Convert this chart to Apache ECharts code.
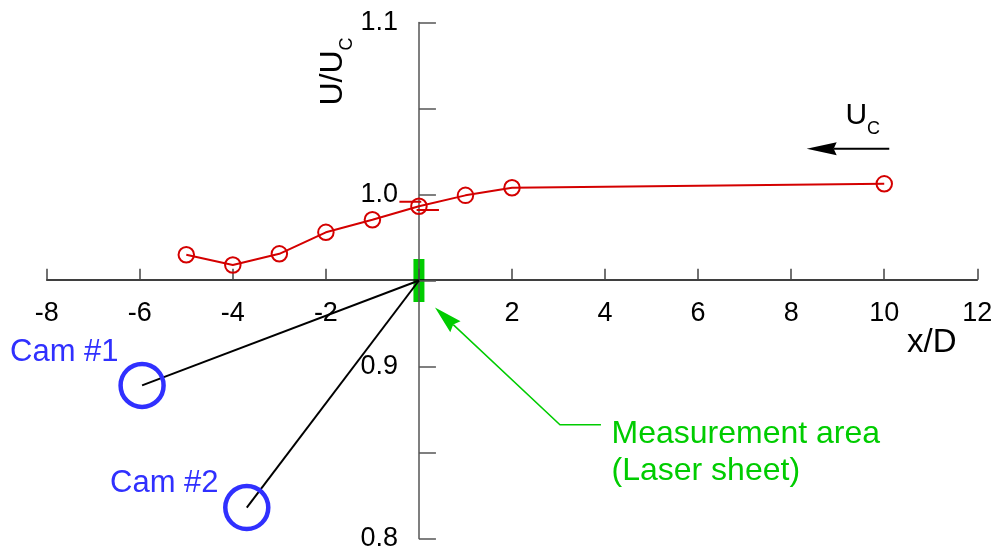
<!DOCTYPE html>
<html>
<head>
<meta charset="utf-8">
<script src="https://cdn.jsdelivr.net/npm/echarts@6/dist/echarts.min.js"></script>
<style>
  html, body { margin: 0; padding: 0; background: #fff; }
  #chart { width: 997px; height: 552px; }
</style>
</head>
<body>
<div id="chart"></div>
<script>
// Streamwise velocity ratio U/Uc along the centreline
const xPositions    = [-5, -4, -3, -2, -1, 0, 1, 2, 10];
const velocityRatio = [0.965, 0.959, 0.9655, 0.978, 0.9853, 0.9932, 0.9995, 1.0039, 1.0062];

// Tick labels shown on each axis
const xTickLabels = [-8, -6, -4, -2, 2, 4, 6, 8, 10, 12];
const yTickLabels = [0.8, 0.9, 1.0, 1.1];

// Spread markers at x/D = 0
const errUpperX = [-0.42, 0.05];
const errUpperY = [0.9958, 0.9958];
const errLowerX = [-0.05, 0.43];
const errLowerY = [0.9910, 0.9910];

// Laser sheet location and the two camera stations
const sheetX = [0];
const sheetY = [0.95];
const cameraNames = ['Cam #1', 'Cam #2'];
const cameraX = [-5.95, -3.70];
const cameraY = [0.889, 0.818];

const FONT = '"Liberation Sans", Arial, Helvetica, sans-serif';
const RED = '#d40000';
const GREEN = '#00cc00';
const BLUE = '#3030ff';

const chart = echarts.init(document.getElementById('chart'), null, { renderer: 'canvas' });

const xMin = -8, xMax = 12, yMin = 0.8, yMax = 1.1;
const gridLeft = 46.7, gridRight = 19.7, gridTop = 22.5, gridBottom = 12;
const plotW = 997 - gridLeft - gridRight;
const plotH = 552 - gridTop - gridBottom;
// shift the axes so they cross at (0, 0.95)
const yAxisShift = -(0 - xMin) / (xMax - xMin) * plotW;
const xAxisShift = -(sheetY[0] - yMin) / (yMax - yMin) * plotH;

const pairs = (xs, ys) => xs.map((x, i) => [x, ys[i]]);

const option = {
  backgroundColor: '#fff',
  animation: false,
  grid: { left: gridLeft, right: gridRight, top: gridTop, bottom: gridBottom, containLabel: false },
  xAxis: {
    type: 'value', min: xMin, max: xMax, interval: 2,
    position: 'bottom', offset: xAxisShift, z: 3,
    splitLine: { show: false },
    axisLine: { lineStyle: { color: '#000', width: 1.5 } },
    axisTick: { inside: true, length: 11, lineStyle: { color: '#444', width: 1.5 } },
    axisLabel: {
      margin: 20.5, fontSize: 27, lineHeight: 27, color: '#000', fontFamily: FONT,
      showMinLabel: true, showMaxLabel: true,
      formatter: v => xTickLabels.includes(v) ? String(v) : ''
    }
  },
  yAxis: {
    type: 'value', min: yMin, max: yMax, interval: 0.05,
    position: 'left', offset: yAxisShift, z: 3,
    splitLine: { show: false },
    axisLine: { lineStyle: { color: '#555', width: 1.5 } },
    axisTick: { inside: true, length: 17, lineStyle: { color: '#555', width: 1.5 } },
    axisLabel: {
      margin: 21, fontSize: 27, color: '#000', fontFamily: FONT,
      showMinLabel: true, showMaxLabel: true,
      formatter: v => yTickLabels.some(t => Math.abs(t - v) < 1e-9) ? v.toFixed(1) : ''
    }
  },
  series: [
    {
      name: 'sheet', type: 'scatter', z: 1, silent: true,
      symbol: 'rect', symbolSize: [11, 43],
      itemStyle: { color: GREEN, opacity: 1 },
      data: pairs(sheetX, sheetY)
    },
    ...cameraNames.map((name, i) => ({
      name: name + ' view', type: 'line', z: 4, silent: true,
      symbol: 'none',
      lineStyle: { color: '#000', width: 2 },
      data: [[sheetX[0], sheetY[0]], [cameraX[i], cameraY[i]]]
    })),
    {
      name: 'cameras', type: 'scatter', z: 4, silent: true,
      symbol: 'circle', symbolSize: 43,
      itemStyle: { color: 'rgba(0,0,0,0)', borderColor: BLUE, borderWidth: 4.5, opacity: 1 },
      data: pairs(cameraX, cameraY)
    },
    {
      name: 'spread upper', type: 'line', z: 5, silent: true, symbol: 'none',
      lineStyle: { color: RED, width: 2 },
      data: pairs(errUpperX, errUpperY)
    },
    {
      name: 'spread lower', type: 'line', z: 5, silent: true, symbol: 'none',
      lineStyle: { color: RED, width: 2 },
      data: pairs(errLowerX, errLowerY)
    },
    {
      name: 'U/Uc', type: 'line', z: 6,
      symbol: 'circle', symbolSize: 15.5,
      lineStyle: { color: RED, width: 2 },
      itemStyle: { color: 'rgba(0,0,0,0)', borderColor: RED, borderWidth: 2, opacity: 1 },
      data: pairs(xPositions, velocityRatio)
    }
  ]
};

chart.setOption(option);

// Annotation geometry in data coordinates
const flowArrow = { tail: [10.108, 1.02667], tip: [8.333, 1.02667] };
const sheetPointer = { start: [3.912, 0.8661], elbow: [3.031, 0.8661], tip: [0.345, 0.9343] };

const toPx = p => chart.convertToPixel({ gridIndex: 0 }, p);

function arrowHead(tip, from, len, half, notch) {
  const dx = tip[0] - from[0], dy = tip[1] - from[1];
  const d = Math.hypot(dx, dy);
  const ux = dx / d, uy = dy / d, nx = -uy, ny = ux;
  const bx = tip[0] - ux * len, by = tip[1] - uy * len;
  return {
    points: [
      tip,
      [bx + nx * half, by + ny * half],
      [tip[0] - ux * (len - notch), tip[1] - uy * (len - notch)],
      [bx - nx * half, by - ny * half]
    ],
    base: [tip[0] - ux * (len - notch), tip[1] - uy * (len - notch)]
  };
}

const fTail = toPx(flowArrow.tail), fTip = toPx(flowArrow.tip);
const fHead = arrowHead(fTip, fTail, 30, 6.5, 3);
const gStart = toPx(sheetPointer.start), gElbow = toPx(sheetPointer.elbow), gTip = toPx(sheetPointer.tip);
const gHead = arrowHead(gTip, gElbow, 28, 7.5, 3);

function label(text, x, y, size, color, extra) {
  return Object.assign({
    type: 'text', x: x, y: y, z: 10, silent: true,
    style: { text: text, font: size + 'px ' + FONT, fill: color, align: 'left', verticalAlign: 'middle' }
  }, extra || {});
}

const camLabelPos = [[10, 352.5], [110, 483.5]];

chart.setOption({
  graphic: [
    { type: 'line', z: 10, silent: true,
      shape: { x1: fTail[0], y1: fTail[1], x2: fHead.base[0], y2: fHead.base[1] },
      style: { stroke: '#000', lineWidth: 2 } },
    { type: 'polygon', z: 10, silent: true, shape: { points: fHead.points }, style: { fill: '#000' } },
    { type: 'polyline', z: 10, silent: true,
      shape: { points: [gStart, gElbow, gHead.base] },
      style: { stroke: GREEN, lineWidth: 1.5, fill: null } },
    { type: 'polygon', z: 10, silent: true, shape: { points: gHead.points }, style: { fill: GREEN } },

    label('U', 845.6, 116, 30, '#000'),
    label('C', 867, 129, 18, '#000'),
    label('x/D', 907, 343, 33, '#000'),
    label('U/U', 333.5, 78, 32, '#000', { rotation: Math.PI / 2,
      style: { text: 'U/U', font: '32px ' + FONT, fill: '#000', align: 'center', verticalAlign: 'middle' } }),
    label('C', 347, 44, 18, '#000', { rotation: Math.PI / 2,
      style: { text: 'C', font: '18px ' + FONT, fill: '#000', align: 'center', verticalAlign: 'middle' } }),
    ...cameraNames.map((n, i) => label(n, camLabelPos[i][0], camLabelPos[i][1], 31, BLUE)),
    label('Measurement area', 611.5, 434, 32, GREEN),
    label('(Laser sheet)', 611.5, 471, 32, GREEN)
  ]
});
</script>
</body>
</html>
